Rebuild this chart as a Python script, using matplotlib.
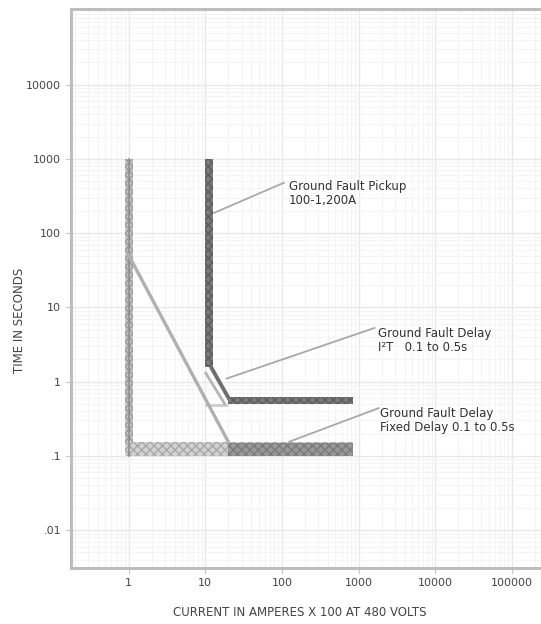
import matplotlib
matplotlib.use("Agg")
import matplotlib.pyplot as plt
import numpy as np

# ---------------- data ----------------
x_ticks = [1, 10, 100, 1000, 10000, 100000]
x_tick_labels = ["1", "10", "100", "1000", "10000", "100000"]
y_ticks = [0.01, 0.1, 1, 10, 100, 1000, 10000]
y_tick_labels = [".01", ".1", "1", "10", "100", "1000", "10000"]

# Fixed-delay band (light, L-shaped): vertical leg at x~1, horizontal leg at t~0.1-0.15
fixed_vert_x = [0.91, 1.16]
fixed_vert_y = [0.1, 1000]
fixed_horiz_x = [0.91, 850]
fixed_horiz_y = [0.1, 0.155]
fixed_dark_x = [20, 850]          # darker part of the fixed-delay band
fixed_dark_y = [0.1, 0.15]

# Pickup band (dark) at ~10-12.8, down to ~1.6 s then I2t ramp to 0.5-0.6 s
pickup_vert_x = [10, 12.8]
pickup_vert_y = [1.6, 1000]
i2t_dark_x = [11.8, 21]
i2t_dark_y = [1.6, 0.56]
i2t_light_x = [10.2, 18]
i2t_light_y = [1.3, 0.5]
i2t_low_x = [10, 20]
i2t_low_y = [0.45, 0.5]
delay_horiz_x = [20, 850]
delay_horiz_y = [0.5, 0.62]

# I2t diagonal line
diag_x = [1.0, 20]
diag_y = [51, 0.155]

# annotations: (text, text_xy, leader_from, leader_to)
ann_texts = ["Ground Fault Pickup\n100-1,200A",
             "Ground Fault Delay\nI\u00b2T   0.1 to 0.5s",
             "Ground Fault Delay\nFixed Delay 0.1 to 0.5s"]
ann_text_xy = [(124, 345), (1780, 3.55), (1890, 0.30)]
ann_from = [(13.1, 188), (19, 1.1), (124, 0.155)]
ann_to = [(106, 478), (1620, 5.3), (1830, 0.44)]

# ---------------- figure ----------------
fig = plt.figure(figsize=(5.41, 6.24), dpi=100)
ax = fig.add_axes([71/541, 1 - 568/624, 1 - 71/541 + 0.01, (568 - 9)/624])
ax.set_xscale("log")
ax.set_yscale("log")
ax.set_xlim(10**-0.75, 10**5.45)
ax.set_ylim(10**-2.51, 10**5.02)

ax.grid(True, which="minor", color="#f4f4f4", lw=0.8)
ax.grid(True, which="major", color="#e8e8e8", lw=1.0)
ax.set_axisbelow(True)

light_face = "#c4c4c4"
light_hatch = "#9a9a9a"
dark_face = "#7a7a7a"

# fixed-delay light L band
ax.fill_between(fixed_vert_x, fixed_vert_y[0], fixed_vert_y[1], facecolor=light_face,
                edgecolor=light_hatch, hatch="xxxx", lw=0, zorder=2)
ax.fill_between(fixed_horiz_x, fixed_horiz_y[0], fixed_horiz_y[1], facecolor="#d2d2d2",
                edgecolor="#a8a8a8", hatch="xxxx", lw=0, zorder=2)
ax.plot([1.02] * 2, fixed_vert_y, color="#8e8e8e", lw=1.2, zorder=3)
ax.fill_between(fixed_dark_x, fixed_dark_y[0], fixed_dark_y[1], facecolor="#989898",
                edgecolor="#7a7a7a", hatch="xxxx", lw=0, zorder=3)

# I2t ramp
ax.fill_between(i2t_low_x, i2t_low_y[0], i2t_low_y[1], facecolor="#d0d0d0",
                edgecolor="none", zorder=2)
ax.plot(i2t_light_x, i2t_light_y, color="#b4b4b4", lw=2.0, zorder=3)

# pickup dark band
ax.fill_between(pickup_vert_x, pickup_vert_y[0], pickup_vert_y[1], facecolor=dark_face,
                edgecolor="#5c5c5c", hatch="xxxx", lw=0, zorder=3)
ax.plot(i2t_dark_x, i2t_dark_y, color="#6e6e6e", lw=2.8, solid_capstyle="butt", zorder=3)
ax.fill_between(delay_horiz_x, delay_horiz_y[0], delay_horiz_y[1], facecolor=dark_face,
                edgecolor="#5c5c5c", hatch="xxxx", lw=0, zorder=3)

# diagonal
ax.plot(diag_x, diag_y, color="#b0b0b0", lw=2.4, zorder=4)

# annotations
for t, txy, a, b in zip(ann_texts, ann_text_xy, ann_from, ann_to):
    ax.plot([a[0], b[0]], [a[1], b[1]], color="#a8a8a8", lw=1.3, zorder=5)
    ax.text(txy[0], txy[1], t, fontsize=8.5, color="#333333", ha="left", va="center",
            linespacing=1.1, zorder=6)

ax.set_xticks(x_ticks)
ax.set_xticklabels(x_tick_labels)
ax.set_yticks(y_ticks)
ax.set_yticklabels(y_tick_labels)
ax.tick_params(which="minor", length=0)
ax.tick_params(which="major", length=4, color="#c8c8c8", labelsize=8,
               labelcolor="#444444", pad=3)

for s in ["top", "left", "bottom"]:
    ax.spines[s].set_color("#bdbdbd")
    ax.spines[s].set_linewidth(2.2)
ax.spines["right"].set_visible(False)

fig.text(20/541, 1 - 320/624, "TIME IN SECONDS", rotation=90, fontsize=8.5,
         color="#444444", ha="center", va="center")
fig.text(300/541, 1 - 613/624, "CURRENT IN AMPERES X 100 AT 480 VOLTS", fontsize=8.5,
         color="#444444", ha="center", va="center")

fig.savefig("out.png", dpi=100)
